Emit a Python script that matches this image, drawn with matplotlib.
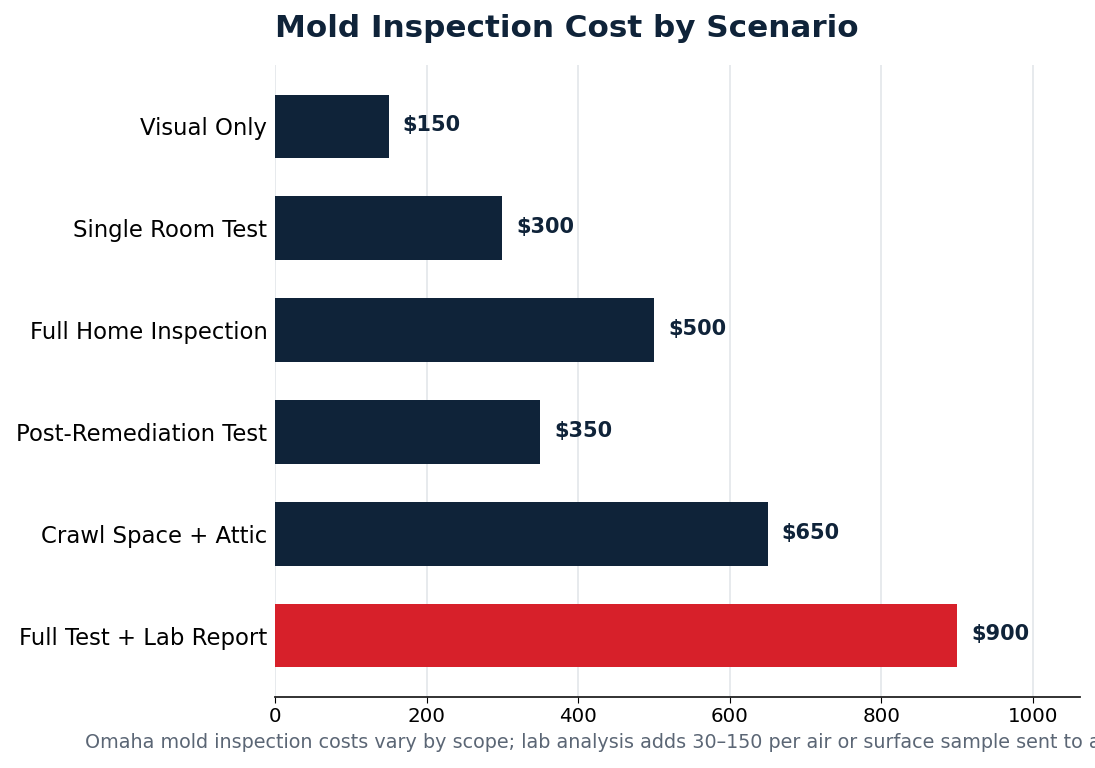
import matplotlib
matplotlib.use('Agg')
import matplotlib.pyplot as plt

# data
scenarios = ['Visual Only', 'Single Room Test', 'Full Home Inspection',
             'Post-Remediation Test', 'Crawl Space + Attic', 'Full Test + Lab Report']
costs = [150, 300, 500, 350, 650, 900]
highlight = 'Full Test + Lab Report'

navy = '#0f2339'
red = '#d7202a'

fig = plt.figure(figsize=(10.95, 7.68), dpi=100)
ax = fig.add_axes([275 / 1095, 1 - 697 / 768, (1080 - 275) / 1095, (697 - 65) / 768])

colors = [red if s == highlight else navy for s in scenarios]
ypos = list(range(len(scenarios)))
ax.barh(ypos, costs, height=0.62, color=colors, zorder=3)

for y, v in zip(ypos, costs):
    ax.annotate(f'\\${v}', xy=(v, y), xytext=(10, 1), textcoords='offset points',
                va='center', ha='left', fontsize=15, fontweight='bold', color=navy)

ax.set_yticks(ypos)
ax.set_yticklabels(scenarios, fontsize=16.4)
ax.set_ylim(5.6, -0.6)
ax.set_xlim(0, 1062)
ax.set_xticks([0, 200, 400, 600, 800, 1000])
ax.tick_params(axis='x', labelsize=14.3, length=4)
ax.tick_params(axis='y', length=0, pad=5.5)

ax.grid(axis='x', color='#e3e6ea', linewidth=1.2, zorder=0)
for side in ['top', 'right', 'left']:
    ax.spines[side].set_visible(False)
ax.spines['bottom'].set_color('#222222')
ax.spines['bottom'].set_linewidth(1.3)

ax.set_title('Mold Inspection Cost by Scenario', loc='left', fontsize=22.3,
             fontweight='bold', color=navy, pad=20)

fig.text(85 / 1095, 1 - 742 / 768,
         'Omaha mold inspection costs vary by scope; lab analysis adds 30–150 per air or surface sample sent to a certified lab.',
         fontsize=13.8, color='#5b6675', ha='left', va='center')

fig.savefig('out.png', dpi=100)
